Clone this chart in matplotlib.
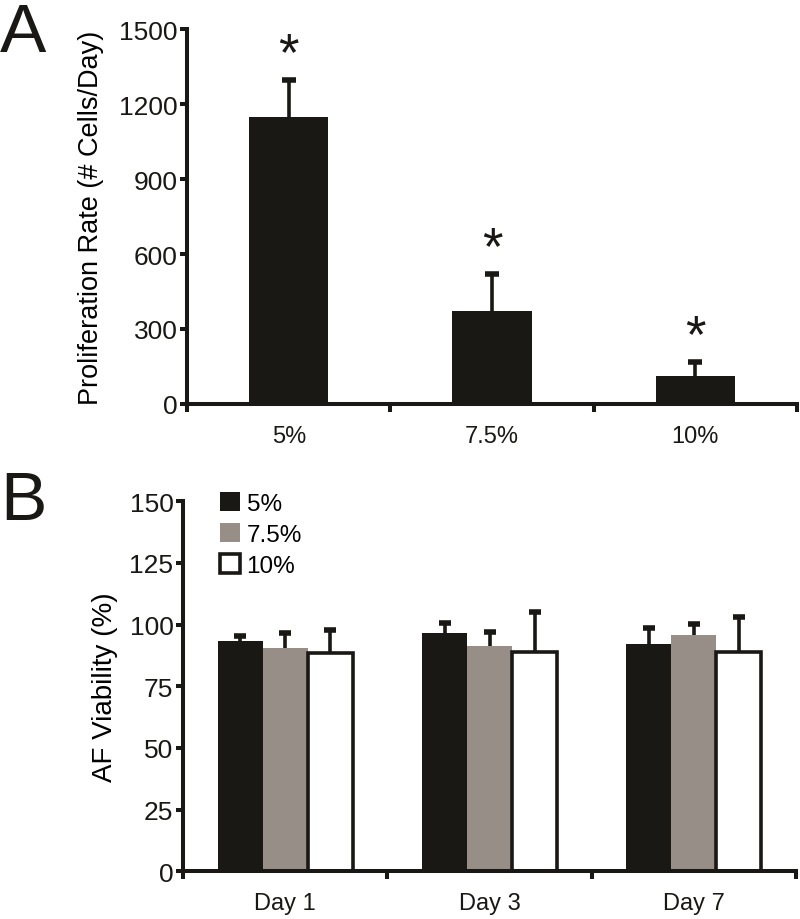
import numpy as np
import matplotlib
matplotlib.use("Agg")
import matplotlib.pyplot as plt

plt.rcParams['font.family'] = ['Liberation Sans', 'DejaVu Sans']

# panel A data
conc = ['5%', '7.5%', '10%']
prolif = [1148, 372, 112]
prolif_err = [148, 148, 56]

# panel B data
days = ['Day 1', 'Day 3', 'Day 7']
viab_5 = [93.2, 96.5, 92.0]
viab_75 = [90.4, 91.2, 95.7]
viab_10 = [88.4, 88.8, 88.8]
err_5 = [2.1, 4.0, 6.5]
err_75 = [6.1, 5.7, 4.4]
err_10 = [9.3, 16.2, 14.2]

black = '#1a1814'
gray = '#978e88'
lw = 2.9

fig = plt.figure(figsize=(8, 9.2), dpi=100)
axA = fig.add_axes([0.234, 0.560, 0.762, 0.407])
axB = fig.add_axes([0.229, 0.052, 0.766, 0.402])

def style(ax):
    for s in ['top', 'right']:
        ax.spines[s].set_visible(False)
    for s in ['left', 'bottom']:
        ax.spines[s].set_linewidth(lw)
        ax.spines[s].set_color(black)
    ax.tick_params(axis='y', which='major', length=5, width=lw, labelsize=19, pad=2, colors=black)
    ax.tick_params(axis='x', which='major', length=0, labelsize=17, pad=15, colors=black)
    ax.tick_params(axis='x', which='minor', length=6, width=lw, color=black)
    ax.set_xticks([-0.5, 0.5, 1.5, 2.5], minor=True)
    ax.set_xlim(-0.5, 2.5)

def upper_err(ax, xs, vals, errs, cap):
    # only the upper half of the error bar, as in the figure
    tops = np.array(vals) + np.array(errs)
    ax.vlines(xs, vals, tops, color=black, lw=2.6, zorder=1)
    ax.plot(xs, tops, ls='none', marker='_', ms=cap, mew=4, color=black, zorder=1)

# ---- A
x = np.arange(len(conc))
axA.bar(x, prolif, width=0.39, color=black, zorder=2)
upper_err(axA, x, prolif, prolif_err, 10)
for xi, v, e in zip(x, prolif, prolif_err):
    axA.annotate('*', (xi, v + e), xytext=(0, 0), textcoords='offset points',
                 ha='center', va='bottom', fontsize=38, color=black)
axA.set_ylim(0, 1500)
axA.set_yticks([0, 300, 600, 900, 1200, 1500])
axA.set_xticks(x)
axA.set_xticklabels(conc)
axA.set_ylabel('Proliferation Rate (# Cells/Day)', fontsize=19.5, labelpad=11)
style(axA)

# ---- B
w = 0.22
xb = np.arange(len(days))
series = [(viab_5, err_5, black, black, '5%'),
          (viab_75, err_75, gray, gray, '7.5%'),
          (viab_10, err_10, 'white', black, '10%')]
for i, (vals, errs, fc, ec, lab) in enumerate(series):
    pos = xb + (i - 1) * w
    axB.bar(pos, vals, width=w, color=fc, edgecolor=ec, linewidth=2.6 if fc == 'white' else 0,
            label=lab, zorder=2)
    upper_err(axB, pos, vals, errs, 9)
axB.set_ylim(0, 150)
axB.set_yticks([0, 25, 50, 75, 100, 125, 150])
axB.set_xticks(xb)
axB.set_xticklabels(days)
axB.set_ylabel('AF Viability (%)', fontsize=20, labelpad=8)
style(axB)
leg = axB.legend(loc='upper left', bbox_to_anchor=(0.024, 1.085), frameon=False, fontsize=17.5,
                 handlelength=0.85, handleheight=0.85, handletextpad=0.25, labelspacing=0.33)

fig.text(0.0, 1 - 52 / 920, 'A', fontsize=50, va='baseline', ha='left', color=black)
fig.text(0.0, 1 - 520 / 920, 'B', fontsize=50, va='baseline', ha='left', color=black)

fig.savefig('out.png', dpi=100)
